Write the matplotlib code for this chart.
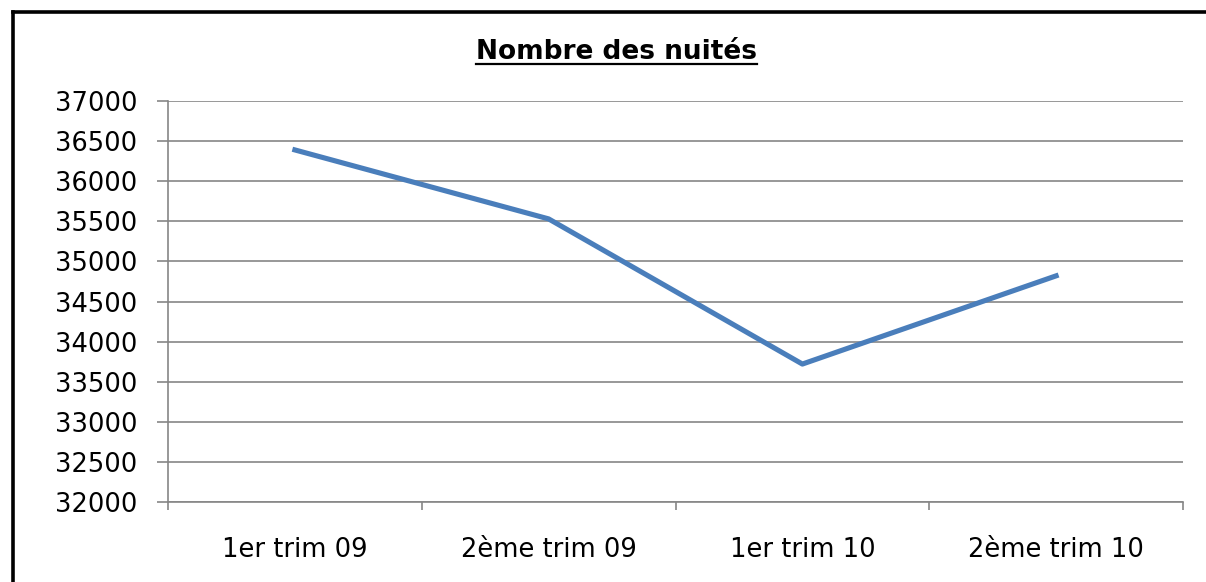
import matplotlib
matplotlib.use('Agg')
from matplotlib import pyplot as plt
from matplotlib.lines import Line2D
import numpy as np

categories = ['1er trim 09', '2ème trim 09', '1er trim 10', '2ème trim 10']
nuites = [36390, 35530, 33720, 34820]
title = 'Nombre des nuités'

plt.rcParams['font.family'] = ['DejaVu Sans']

fig = plt.figure(figsize=(12.06, 5.82), dpi=100)
ax = fig.add_axes([168 / 1206, 80 / 582, (1183 - 168) / 1206, 401 / 582])

x = np.arange(len(categories)) + 0.5
ax.plot(x, nuites, color='#4A7EBB', lw=3.7, solid_joinstyle='round', zorder=3)

ax.set_xlim(0, len(categories))
ax.set_ylim(32000, 37000)
ax.set_yticks(np.arange(32000, 37001, 500))
ax.set_xticks(np.arange(0, len(categories) + 1))
ax.set_xticklabels([])
ax.set_xticks(x, minor=True)
ax.set_xticklabels(categories, minor=True)

ax.grid(axis='y', color='#868686', lw=1.2)
ax.set_axisbelow(True)
for s in ['top', 'right']:
    ax.spines[s].set_visible(False)
for s in ['left', 'bottom']:
    ax.spines[s].set_color('#868686')
    ax.spines[s].set_linewidth(1.2)

ax.tick_params(axis='y', length=8, color='#868686', width=1.2, labelsize=18.5, pad=14)
ax.tick_params(axis='x', which='major', length=6, color='#868686', width=1.2, direction='out')
ax.tick_params(axis='x', which='minor', length=0, labelsize=18.5, pad=25)

t = fig.text(617 / 1206, 1 - 52 / 582, title, ha='center', va='center',
             fontsize=19, fontweight='bold')

# underline title
fig.canvas.draw()
bb = t.get_window_extent().transformed(fig.transFigure.inverted())
fig.add_artist(Line2D([bb.x0, bb.x1], [bb.y0 + 0.002, bb.y0 + 0.002],
                      transform=fig.transFigure, color='black', lw=1.6))

# chart border (top and left only visible)
fig.add_artist(Line2D([12.5 / 1206, 1.0], [1 - 12 / 582, 1 - 12 / 582],
                      transform=fig.transFigure, color='black', lw=2.6))
fig.add_artist(Line2D([12.5 / 1206, 12.5 / 1206], [0.0, 1 - 12 / 582],
                      transform=fig.transFigure, color='black', lw=2.6))

fig.savefig('out.png', dpi=100)
